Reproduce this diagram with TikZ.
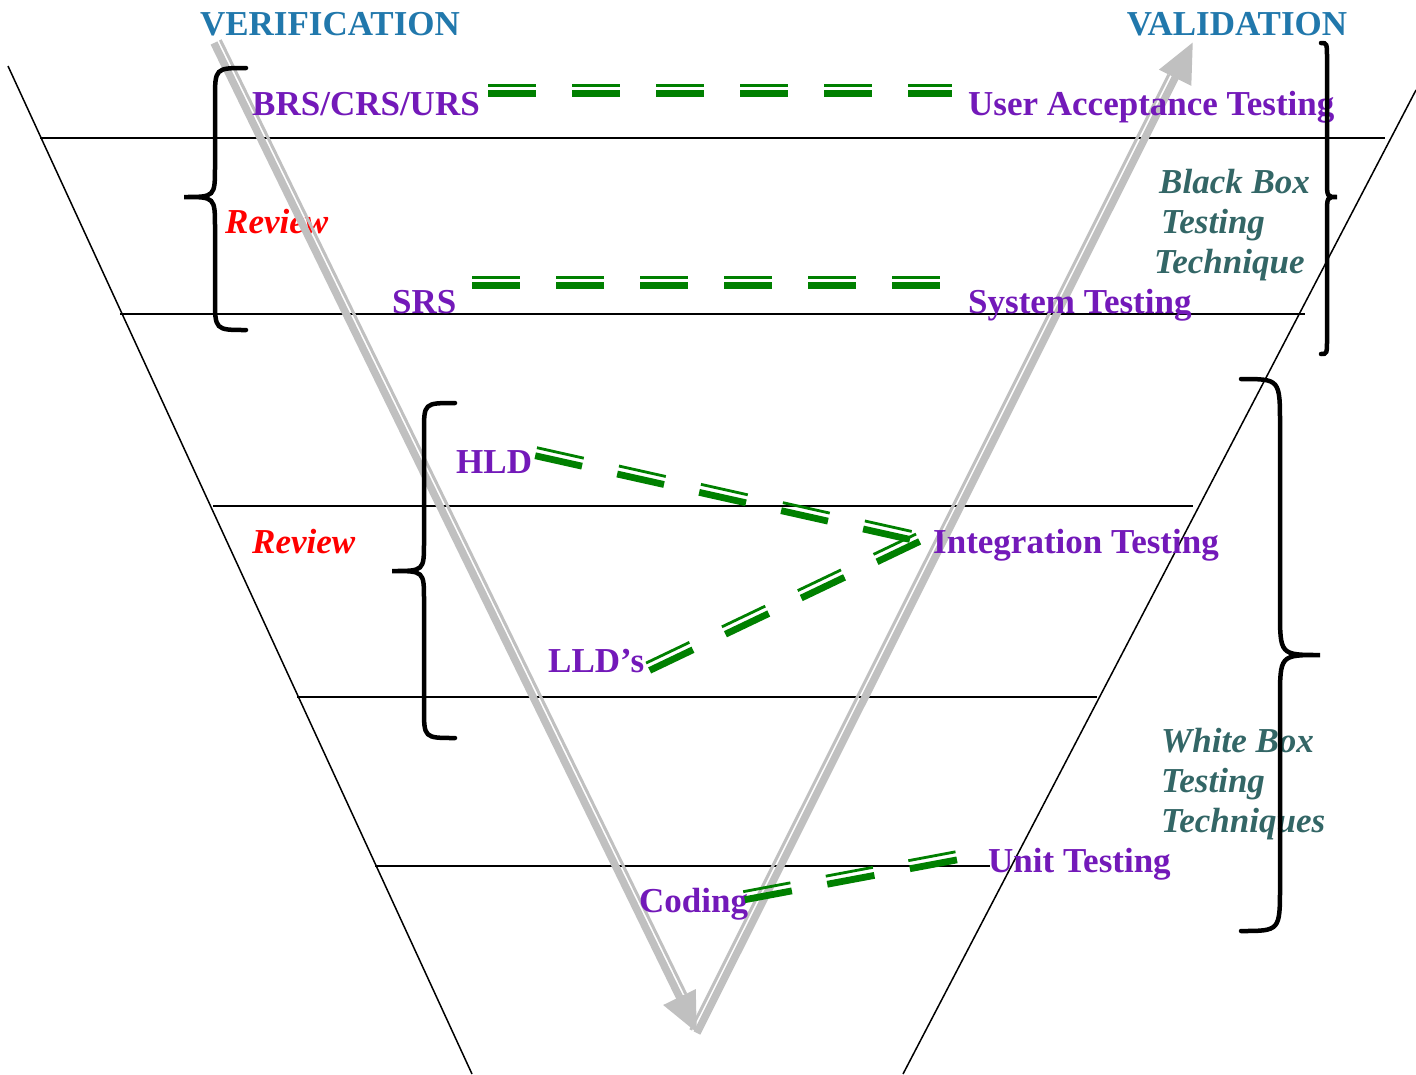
\documentclass[tikz,border=0pt]{standalone}
\usepackage{fontspec}
\setmainfont{Liberation Serif}
\usetikzlibrary{calc,arrows.meta}
\definecolor{vblue}{RGB}{33,120,172}
\definecolor{lpurple}{RGB}{115,25,185}
\definecolor{tteal}{RGB}{51,102,102}
\definecolor{dgreen}{RGB}{0,128,0}
\definecolor{agrey}{RGB}{192,192,192}
\tikzset{
  lbl/.style={inner sep=0pt,font=\fontsize{35}{40}\selectfont\bfseries},
  hdr/.style={lbl,text=vblue,anchor=base},
  doc/.style={lbl,text=lpurple,anchor=base west},
  rev/.style={lbl,text=red,font=\fontsize{35}{40}\selectfont\bfseries\itshape,anchor=base west},
  tech/.style={lbl,text=tteal,font=\fontsize{35}{40}\selectfont\bfseries\itshape,anchor=base west},
  frame/.style={line width=1.5pt,black},
  brace/.style={line width=4.5pt,black,line cap=round},
  gthick/.style={line width=6.8pt,dgreen,dash pattern=on 48pt off 36pt},
  gthin/.style={line width=2.8pt,dgreen,dash pattern=on 48pt off 36pt},
  athick/.style={line width=7.5pt,agrey},
  athin/.style={line width=3pt,agrey},
}
\newcommand\dbldash[2]{%
  \draw[gthick] ($(#1)!3.8pt!-90:(#2)$) -- ($(#2)!3.8pt!90:(#1)$);
  \draw[gthin] ($(#1)!4.4pt!90:(#2)$) -- ($(#2)!4.4pt!-90:(#1)$);
}
\begin{document}
\begin{tikzpicture}[x=1pt,y=-1pt]
\useasboundingbox (0,0) rectangle (1416,1074);
% funnel outline
\coordinate (fl1) at (8,66);
\coordinate (fl2) at (472,1074);
\coordinate (fr1) at (1416,90);
\coordinate (fr2) at (903,1074);
\draw[frame] (fl1) -- (fl2);
\draw[frame] (fr1) -- (fr2);
% horizontal levels
\coordinate (h1a) at (40,138);  \coordinate (h1b) at (1385,138);
\coordinate (h2a) at (120,314); \coordinate (h2b) at (1305,314);
\coordinate (h3a) at (213,506); \coordinate (h3b) at (1193,506);
\coordinate (h4a) at (297,697); \coordinate (h4b) at (1097,697);
\coordinate (h5a) at (375,866); \coordinate (h5b) at (990,866);
\foreach \i in {1,...,5} {\draw[frame] (h\i a) -- (h\i b);}
% review label lying under the arrow
\node[rev] (rev1) at (225,233) {Review};
% V arrows
\coordinate (vtop) at (214,43);
\coordinate (vbot) at (697,1033);
\coordinate (vend) at (1193,42);
\draw[athin,shorten >=40pt] ($(vtop)!7pt!90:(vbot)$) -- ($(vbot)!7pt!-90:(vtop)$);
\draw[athick,-{Triangle[length=40pt,width=34pt]}] (vtop) -- (vbot);
\draw[athin,shorten >=40pt] ($(vbot)!7pt!90:(vend)$) -- ($(vend)!7pt!-90:(vbot)$);
\draw[athick,-{Triangle[length=40pt,width=34pt]}] (vbot) -- (vend);
% headers
\node[hdr] (ver) at (330,35) {VERIFICATION};
\node[hdr] (val) at (1237,35) {VALIDATION};
% labels
\node[doc] (brs) at (252,115) {BRS/CRS/URS};
\node[doc] (uat) at (968,115) {User Acceptance Testing};
\node[doc] (srs) at (392,313) {SRS};
\node[doc] (sys) at (968,313) {System Testing};
\node[doc] (hld) at (456,473) {HLD};
\node[doc] (int) at (933,553) {Integration Testing};
\node[doc] (lld) at (548,672) {LLD’s};
\node[doc] (cod) at (639,912) {Coding};
\node[doc] (unit) at (988,872) {Unit Testing};
\node[rev] (rev2) at (252,553) {Review};
\node[tech] (bb1) at (1159,193) {Black Box};
\node[tech] (bb2) at (1161,233) {Testing};
\node[tech] (bb3) at (1154,273) {Technique};
\node[tech] (wb1) at (1161,752) {White Box};
\node[tech] (wb2) at (1161,792) {Testing};
\node[tech] (wb3) at (1161,832) {Techniques};
% green double dashed links
\coordinate (d1a) at (488,90);  \coordinate (d1b) at (952,90);
\coordinate (d2a) at (472,282); \coordinate (d2b) at (940,282);
\coordinate (d3a) at (536,452); \coordinate (d3b) at (912,536);
\coordinate (d4a) at (648,667); \coordinate (d4b) at (918,538);
\coordinate (d5a) at (744,896); \coordinate (d5b) at (957,856);
\dbldash{d1a}{d1b}
\dbldash{d2a}{d2b}
\dbldash{d3a}{d3b}
\dbldash{d4a}{d4b}
\dbldash{d5a}{d5b}
% braces
\draw[brace] (246,68) .. controls (215,68) .. (215,100) -- (215,166)
  .. controls (215,197) .. (184,197) .. controls (215,197) .. (215,228)
  -- (215,298) .. controls (215,330) .. (246,330);
\draw[brace] (455,403) .. controls (424,403) .. (424,432) -- (424,542)
  .. controls (424,571) .. (392,571) .. controls (424,571) .. (424,600)
  -- (424,708) .. controls (424,738) .. (455,738);
\draw[brace] (1321,43) .. controls (1327,43) .. (1327,60) -- (1327,180)
  .. controls (1327,197) .. (1337,197) .. controls (1327,197) .. (1327,214)
  -- (1327,338) .. controls (1327,354) .. (1321,354);
\draw[brace] (1241,379) .. controls (1280,379) .. (1280,425) -- (1280,610)
  .. controls (1280,655) .. (1320,655) .. controls (1280,655) .. (1280,700)
  -- (1280,886) .. controls (1280,931) .. (1241,931);
\end{tikzpicture}
\end{document}
